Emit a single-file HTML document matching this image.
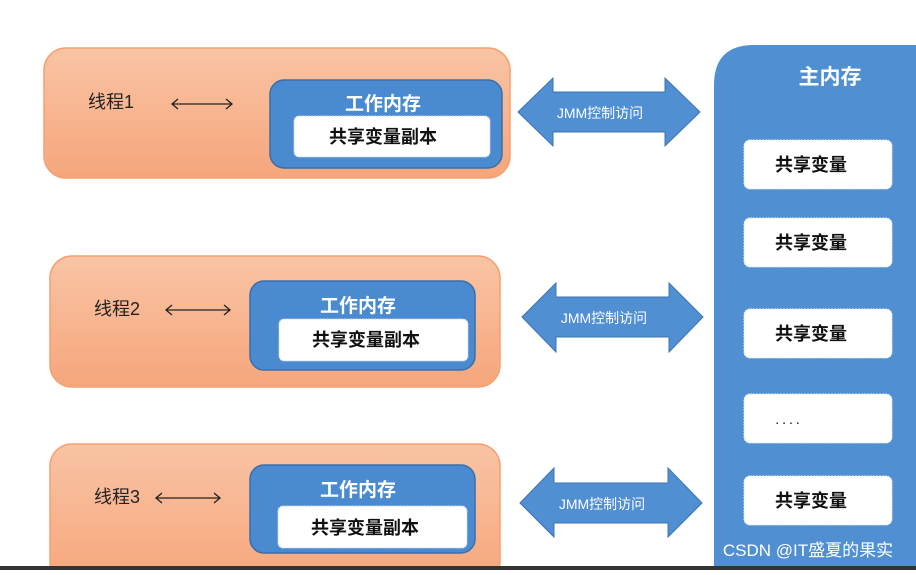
<!DOCTYPE html>
<html><head><meta charset="utf-8"><style>
html,body{margin:0;padding:0;background:#fff;}
text{font-family:"Liberation Sans","Noto Sans CJK SC",sans-serif;}
</style></head><body>
<svg width="916" height="570" xmlns="http://www.w3.org/2000/svg">
<defs>
<linearGradient id="og" x1="0" y1="0" x2="0" y2="1"><stop offset="0" stop-color="#f9c4a4"/><stop offset="1" stop-color="#f6a67c"/></linearGradient>
</defs>
<rect width="916" height="570" fill="#fff"/>
<!-- main memory -->
<path d="M714 85 Q714 45 754 45 L916 45 L916 570 L714 570 Z" fill="#5090d2"/>
<text x="830" y="84" font-size="21" fill="#fff" text-anchor="middle" font-weight="bold">主内存</text>
<g fill="#fff" stroke="#dfe8f2" stroke-dasharray="2 1">
<rect x="744" y="140" width="148" height="49" rx="6"/>
<rect x="744" y="218" width="148" height="49" rx="6"/>
<rect x="744" y="309" width="148" height="49" rx="6"/>
<rect x="744" y="394" width="148" height="49" rx="6"/>
<rect x="744" y="476" width="148" height="49" rx="6"/>
</g>
<g font-size="18" fill="#111" text-anchor="middle" font-weight="bold">
<text x="811" y="171">共享变量</text>
<text x="811" y="249">共享变量</text>
<text x="811" y="340">共享变量</text>
<text x="789" y="424" font-size="14" font-weight="normal" letter-spacing="3">....</text>
<text x="811" y="507">共享变量</text>
</g>
<!-- threads -->
<g stroke="#f5a070" stroke-width="1.5" fill="url(#og)">
<rect x="44" y="48" width="466" height="130" rx="22"/>
<rect x="50" y="256" width="450" height="131" rx="22"/>
<rect x="50" y="444" width="450" height="140" rx="22"/>
</g>
<g fill="#4a8ad0" stroke="#3b6ea8" stroke-width="1.5">
<rect x="270" y="80" width="232" height="88" rx="14"/>
<rect x="250" y="281" width="225" height="89" rx="14"/>
<rect x="250" y="465" width="225" height="88" rx="14"/>
</g>
<g fill="#fff" stroke="#c9d8ea" stroke-dasharray="2 1">
<rect x="294" y="116" width="196" height="41" rx="5"/>
<rect x="279" y="319" width="189" height="42" rx="5"/>
<rect x="278" y="506" width="189" height="42" rx="5"/>
</g>
<g font-size="19" fill="#fff" text-anchor="middle" font-weight="bold">
<text x="383" y="110">工作内存</text>
<text x="358" y="312">工作内存</text>
<text x="358" y="496">工作内存</text>
</g>
<g font-size="18" fill="#111" text-anchor="middle" font-weight="bold">
<text x="383" y="143">共享变量副本</text>
<text x="366" y="346">共享变量副本</text>
<text x="365" y="534">共享变量副本</text>
</g>
<g font-size="18" fill="#222">
<text x="88" y="108">线程1</text>
<text x="94" y="315">线程2</text>
<text x="94" y="503">线程3</text>
</g>
<g stroke="#222" stroke-width="1.3" fill="none">
<path d="M172 104 H232 M178 99 L172 104 L178 109 M226 99 L232 104 L226 109"/>
<path d="M166 310 H230 M172 305 L166 310 L172 315 M224 305 L230 310 L224 315"/>
<path d="M156 498 H220 M162 493 L156 498 L162 503 M214 493 L220 498 L214 503"/>
</g>
<!-- double arrows -->
<g fill="#4f8fd2" stroke="#3d74b0" stroke-width="1">
<path d="M518 112 L553 78 L553 92 L665 92 L665 78 L700 112 L665 146 L665 132 L553 132 L553 146 Z"/>
<path d="M522 317 L556 283 L556 297 L669 297 L669 283 L703 317 L669 352 L669 337 L556 337 L556 352 Z"/>
<path d="M520 503 L554 468 L554 483 L668 483 L668 468 L702 503 L668 537 L668 523 L554 523 L554 537 Z"/>
</g>
<g font-size="14" fill="#fff" text-anchor="middle">
<text x="600" y="118">JMM控制访问</text>
<text x="604" y="323">JMM控制访问</text>
<text x="602" y="509">JMM控制访问</text>
</g>
<text x="808" y="556" font-size="17" fill="#fff" text-anchor="middle">CSDN @IT盛夏的果实</text>
<rect x="0" y="566" width="916" height="4" fill="#333"/>
</svg>
</body></html>
